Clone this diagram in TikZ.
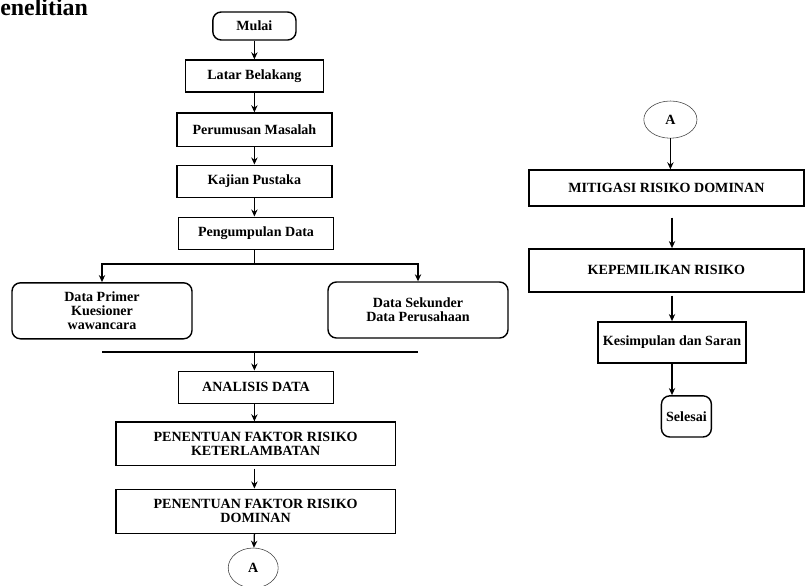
\documentclass[tikz,border=0pt]{standalone}
\usepackage{fontspec}
\setmainfont{Liberation Serif}
\usetikzlibrary{shapes,arrows,arrows.meta,positioning}

\begin{document}
\begin{tikzpicture}[
    block/.style={rectangle, draw, line width=1pt, align=center, font=\bfseries\fontsize{10}{10}\selectfont},
    roundblock/.style={block, rounded corners=6pt},
    conn/.style={ellipse, draw, thin, draw=black!75, inner sep=0pt, font=\bfseries\fontsize{10}{10}\selectfont},
    arrow/.style={->, >={Stealth[length=5pt,width=4.5pt]}, line width=0.9pt},
    line/.style={line width=0.9pt}
]

\useasboundingbox (0,0) rectangle (20.125,-14.625);

% Judul
\node[anchor=base west, inner sep=0pt, font=\bfseries\fontsize{17}{17}\selectfont] (judul) at (0,-0.375) {enelitian};

% Kolom kiri
\node[roundblock, minimum width=2.08cm, minimum height=0.7cm] (mulai) at (6.36,-0.65) {Mulai};
\node[block, minimum width=3.45cm, minimum height=0.8cm] (latar) at (6.36,-1.9) {Latar Belakang};
\node[block, minimum width=3.88cm, minimum height=0.83cm] (rumus) at (6.36,-3.24) {Perumusan Masalah};
\node[block, minimum width=3.88cm, minimum height=0.8cm] (kajian) at (6.36,-4.53) {Kajian Pustaka};
\node[block, minimum width=3.88cm, minimum height=0.8cm] (kumpul) at (6.4,-5.83) {Pengumpulan Data};

\node[roundblock, minimum width=4.5cm, minimum height=1.4cm] (primer) at (2.55,-7.77) {Data Primer\\Kuesioner\\wawancara};
\node[roundblock, minimum width=4.5cm, minimum height=1.4cm] (sekunder) at (10.45,-7.75) {Data Sekunder\\Data Perusahaan};

\node[block, minimum width=3.88cm, minimum height=0.8cm] (analisis) at (6.4,-9.68) {ANALISIS DATA};
\node[block, minimum width=6.98cm, minimum height=1.08cm] (faktor) at (6.39,-11.09) {PENENTUAN FAKTOR RISIKO\\KETERLAMBATAN};
\node[block, minimum width=6.98cm, minimum height=1.1cm] (dominan) at (6.39,-12.78) {PENENTUAN FAKTOR RISIKO\\DOMINAN};
\node[conn, minimum width=1.25cm, minimum height=1cm] (konA) at (6.33,-14.2) {A};

% Kolom kanan
\node[conn, minimum width=1.33cm, minimum height=0.93cm] (konB) at (16.76,-2.99) {A};
\node[block, minimum width=6.88cm, minimum height=0.9cm] (mitigasi) at (16.66,-4.7) {MITIGASI RISIKO DOMINAN};
\node[block, minimum width=6.88cm, minimum height=1.08cm] (milik) at (16.66,-6.76) {KEPEMILIKAN RISIKO};
\node[block, minimum width=3.6cm, minimum height=1.03cm] (simpul) at (16.8,-8.56) {Kesimpulan dan Saran};
\node[roundblock, minimum width=1.23cm, minimum height=1.03cm] (selesai) at (17.16,-10.41) {Selesai};

% Panah kiri
\draw[arrow] (mulai) -- (latar);
\draw[arrow] (latar) -- (rumus);
\draw[arrow] (rumus) -- (kajian);
\draw[arrow] (kajian.south) -- (kajian.south |- kumpul.north);

% Percabangan data
\coordinate (cabang) at (6.36,-6.6);
\coordinate (gabung) at (6.36,-8.8);
\draw[line] (kumpul.south -| cabang) -- (cabang);
\draw[arrow] (cabang) -| (primer.north);
\draw[arrow] (cabang) -| (sekunder.north);
\draw[line] (primer.south |- gabung) -- (sekunder.south |- gabung);
\draw[arrow] (gabung) -- (gabung |- analisis.north);

\draw[arrow] (analisis.south -| gabung) -- (gabung |- faktor.north);
\draw[arrow, shorten <=2pt] (faktor.south -| gabung) -- (gabung |- dominan.north);
\draw[arrow] (dominan.south -| gabung) -- (konA);

% Panah kanan
\draw[arrow] (konB.south) -- (konB.south |- mitigasi.north);
\draw[arrow, shorten <=0.27cm] (mitigasi.south -| simpul) -- (simpul |- milik.north);
\draw[arrow, shorten <=2pt] (milik.south -| simpul) -- (simpul.north);
\draw[arrow] (simpul.south) -- (simpul.south |- selesai.north);

\end{tikzpicture}
\end{document}
